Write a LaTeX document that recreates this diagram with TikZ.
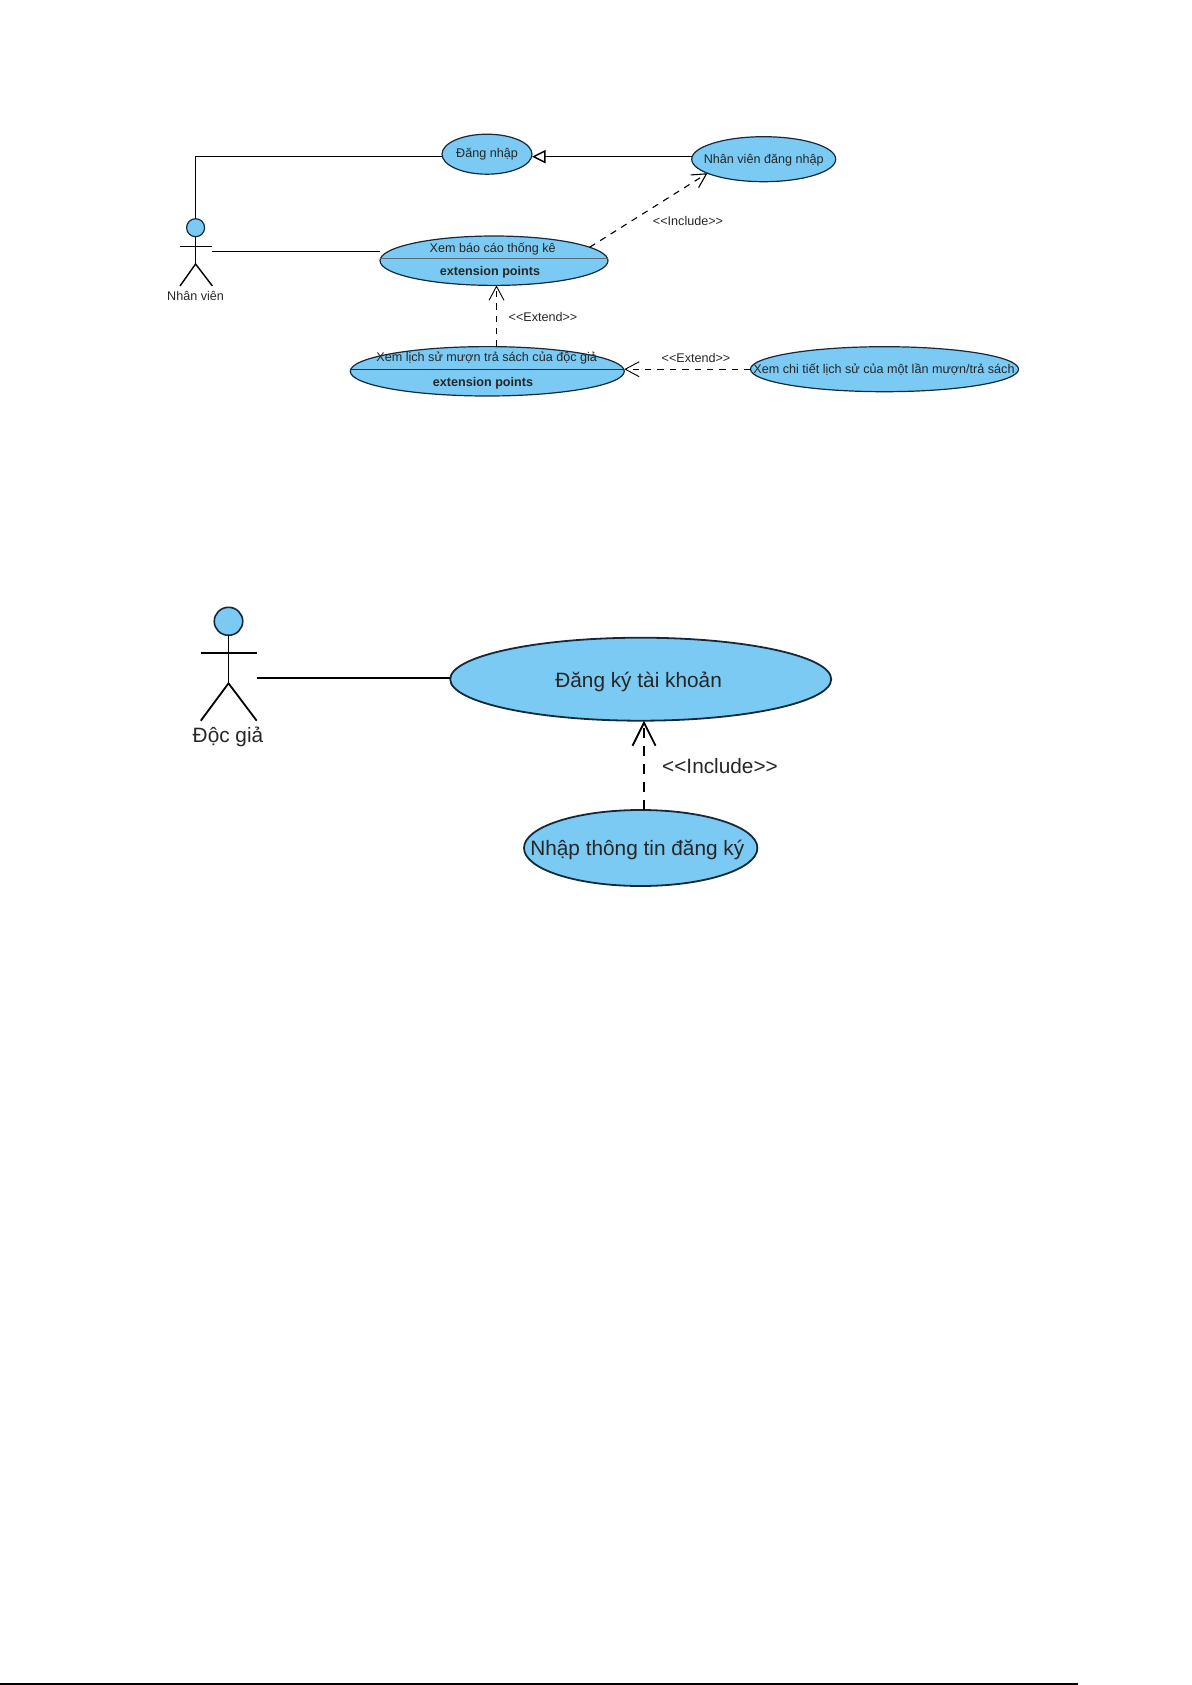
\documentclass[tikz,border=0pt]{standalone}
\usepackage{fontspec}
\setmainfont{Liberation Sans}
\usetikzlibrary{
    shapes.geometric,
    positioning,
    arrows.meta
}
\definecolor{casefill}{HTML}{7ACAF4}
\definecolor{caseline}{HTML}{14293A}
\tikzset{
  usecase/.style = {
      draw=caseline,
      ellipse,
      fill=casefill,
      inner sep=0pt,
      outer sep=0pt,
      line width=.6pt
  },
  bigcase/.style = {
      usecase,
      line width=.9pt
  },
  head/.style = {
      usecase,
      minimum width=9pt,
      minimum height=9pt
  },
  divider/.style = {
      line width=.35pt
  },
  title/.style = {
      font=\fontsize{6.3}{7.5}\selectfont,
      text=black!85,
      inner sep=0pt
  },
  boldtitle/.style = {
      title,
      font=\fontsize{6.3}{7.5}\selectfont\bfseries
  },
  bigtitle/.style = {
      font=\fontsize{10.4}{12}\selectfont,
      text=black!85,
      inner sep=0pt
  },
  edge/.style = {
      line width=.7pt
  },
  bigedge/.style = {
      line width=.9pt
  },
  depend/.style = {
      line width=.55pt,
      dash pattern=on 3.2pt off 3pt,
      -{Straight Barb[length=7pt,width=7.5pt]}
  },
  bigdepend/.style = {
      bigedge,
      dash pattern=on 5pt off 4pt,
      -{Straight Barb[length=11.5pt,width=11.5pt]}
  },
  inherit/.style = {
      edge,
      -{Triangle[open,fill=white,length=6.8pt,width=6.6pt]}
  }
}

\begin{document}
\begin{tikzpicture}[x=.5pt,y=-.5pt]
    \useasboundingbox (0,0) rectangle (1192,1685);
    % First diagram
    \node[usecase, minimum width=45pt, minimum height=20pt] (login) at (487,154.2) {};
    \node[usecase, minimum width=72pt, minimum height=22.5pt] (stafflogin) at (763.7,159.2) {};
    \node[usecase, minimum width=114pt, minimum height=24.7pt] (report) at (494,260.7) {};
    \node[usecase, minimum width=137pt, minimum height=24.7pt] (history) at (487.3,371.3) {};
    \node[usecase, minimum width=134pt, minimum height=22.5pt] (detail) at (884.5,369.2) {};
    \node[title] (logintext) at (487,154) {Đăng nhập};
    \node[title] (stafflogintext) at (763.7,160.3) {Nhân viên đăng nhập};
    \node[title] (reporttext) at (492.7,248.5) {Xem báo cáo thống kê};
    \node[boldtitle] (reportpoints) at (490,272.3) {extension points};
    \node[title] (historytext) at (486.7,358.5) {Xem lịch sử mượn trả sách của độc giả};
    \node[boldtitle] (historypoints) at (483,383.7) {extension points};
    \node[title] (detailtext) at (884,370) {Xem chi tiết lịch sử của một lần mượn/trả sách};
    \draw[divider, draw=caseline!70] (report.179) -- (report.1);
    \draw[divider, draw=caseline] (history.179) -- (history.1);
    % Actor
    \node[head] (staff) at (195.6,227.7) {};
    \coordinate (staffhip) at (195.6,264);
    \coordinate (staffarml) at (180,246);
    \coordinate (staffarmr) at (212.4,246);
    \coordinate (stafflegl) at (180,286);
    \coordinate (stafflegr) at (212.4,286);
    \coordinate (staffhand) at (212.4,251.3);
    \node[title] (stafftext) at (195.6,295.7) {Nhân viên};
    \draw[edge] (staff) -- (staffhip);
    \draw[divider] (staffarml) -- (staffarmr);
    \draw[edge] (stafflegl) -- (staffhip) -- (stafflegr);
    % Edges
    \draw[edge] (staff.north) |- (login.183);
    \draw[edge] (staffhand) -- (staffhand -| report.west);
    \draw[inherit] (stafflogin.178) -- (stafflogin.178 -| login.east);
    \draw[depend] (report.8) -- (stafflogin.194);
    \node[title] (includetext) at (688,221.3) {<{}<Include>{}>};
    \coordinate (historytop) at (496.5,346.7);
    \draw[depend, line width=.45pt] (historytop) -- (historytop |- report.south);
    \node[title] (extendtexta) at (543,316.7) {<{}<Extend>{}>};
    \draw[depend, line width=.45pt] (detail.west) -- (detail.west -| history.east);
    \node[title] (extendtextb) at (696,357.7) {<{}<Extend>{}>};
    % Second diagram
    \node[bigcase, minimum width=190.5pt, minimum height=41.5pt] (signup) at (640.7,679.2) {};
    \node[bigcase, minimum width=116.7pt, minimum height=38pt] (entry) at (640.7,848) {};
    \node[bigtitle] (signuptext) at (638.6,681.7) {Đăng ký tài khoản};
    \node[bigtitle] (entrytext) at (637.3,850.3) {Nhập thông tin đăng ký};
    % Actor
    \node[head, minimum width=14.25pt, minimum height=14pt, line width=.8pt] (reader) at (228.5,621.3) {};
    \coordinate (readerhip) at (228.5,683.3);
    \coordinate (readerarml) at (200.8,652.7);
    \coordinate (readerarmr) at (256.7,652.7);
    \coordinate (readerlegl) at (200.8,720.7);
    \coordinate (readerlegr) at (256.7,720.7);
    \coordinate (readerhand) at (257,678.3);
    \node[bigtitle] (readertext) at (228,736.7) {Độc giả};
    \draw[bigedge] (reader) -- (readerhip);
    \draw[bigedge] (readerarml) -- (readerarmr);
    \draw[bigedge] (readerlegl) -- (readerhip) -- (readerlegr);
    % Edges
    \draw[bigedge] (readerhand) -- (readerhand -| signup.west);
    \coordinate (entrytop) at (644,810);
    \draw[bigdepend] (entrytop) -- (entrytop |- signup.south);
    \node[bigtitle] (includetextb) at (720,765.7) {<{}<Include>{}>};
    % Page rule
    \coordinate (rulestart) at (0,1684);
    \coordinate (ruleend) at (1078,1684);
    \draw[line width=1pt] (rulestart) -- (ruleend);
\end{tikzpicture}
\end{document}
